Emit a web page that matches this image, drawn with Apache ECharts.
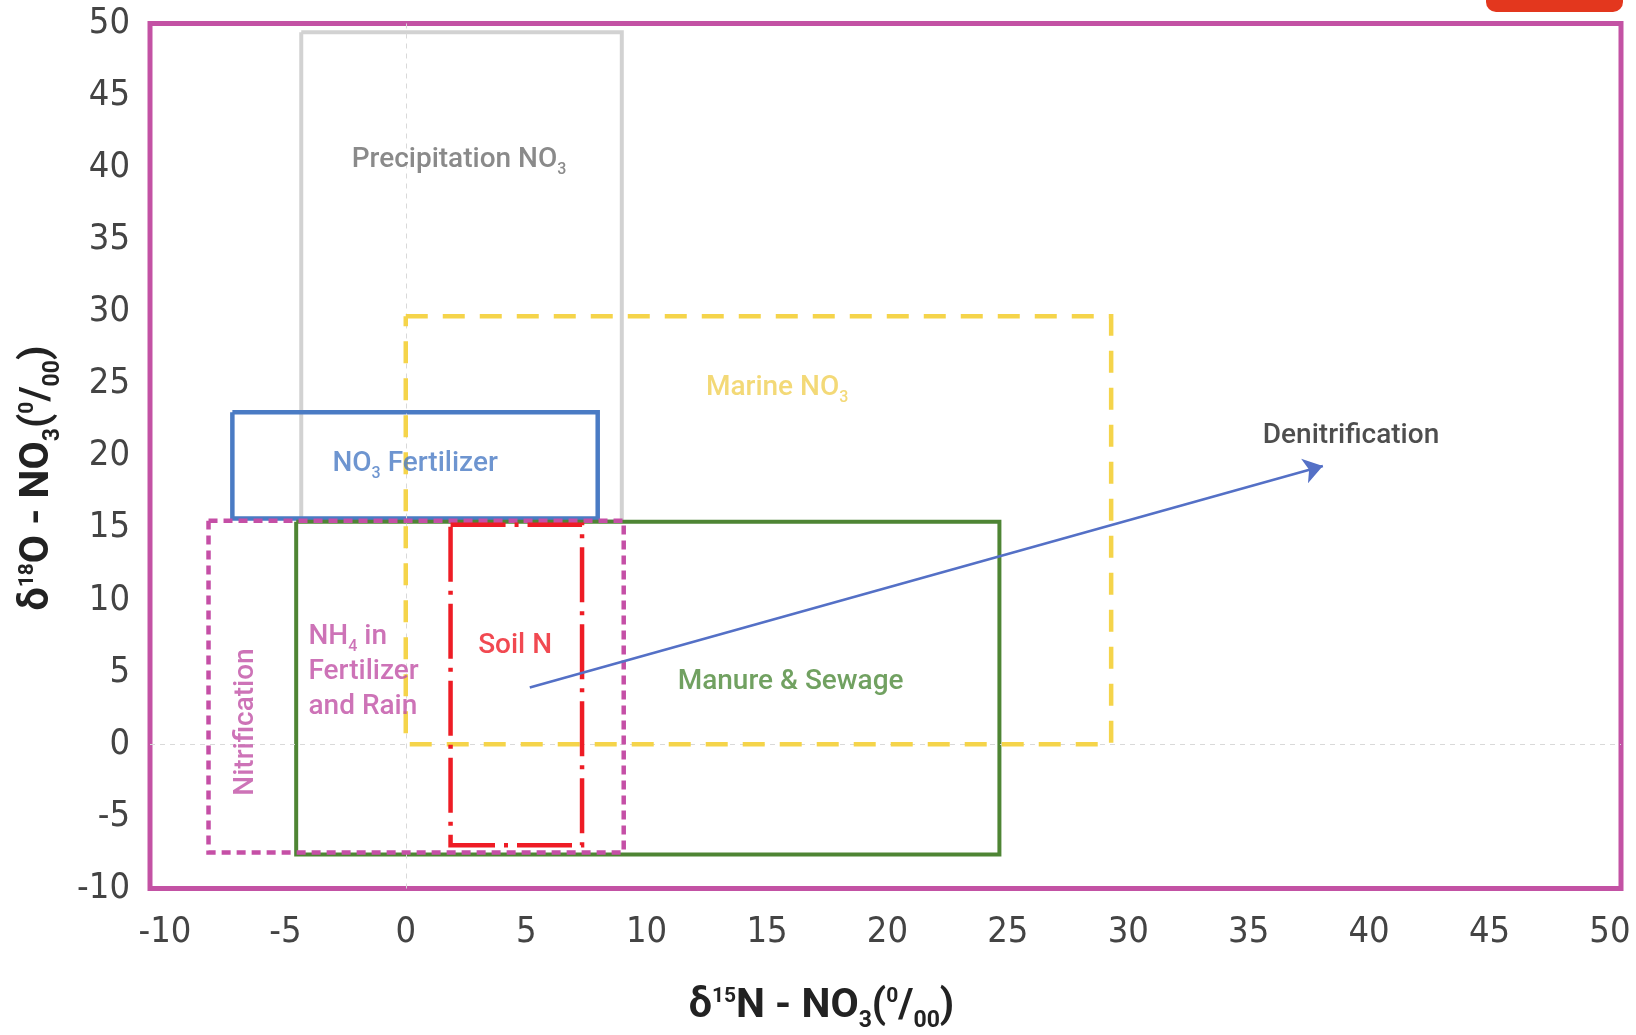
<!DOCTYPE html>
<html>
<head>
<meta charset="utf-8">
<script src="https://cdn.jsdelivr.net/npm/echarts@6/dist/echarts.min.js"></script>
<style>
html,body{margin:0;padding:0;background:#fff;}
#chart{width:1636px;height:1035px;}
</style>
</head>
<body>
<div id="chart"></div>
<script>
// ---- data ----
const xTickValues = [-10, -5, 0, 5, 10, 15, 20, 25, 30, 35, 40, 45, 50];
const yTickValues = [-10, -5, 0, 5, 10, 15, 20, 25, 30, 35, 40, 45, 50];

const boxNames = ['Precipitation NO3', 'NO3 Fertilizer', 'Manure & Sewage', 'Marine NO3', 'Nitrification (NH4 in Fertilizer and Rain)', 'Soil N'];
const boxX0 = [-4.34, -7.20, -4.55, 0.00, -8.19, 1.86];
const boxX1 = [8.97, 7.97, 24.65, 29.29, 9.05, 7.32];
const boxY0 = [15.5, 15.66, -7.64, 0.00, -7.50, -7.00];
const boxY1 = [49.39, 23.04, 15.44, 29.70, 15.51, 15.23];

const arrowStart = [5.15, 3.94];
const arrowEnd = [38.08, 19.31];

const labelTexts = ['Precipitation NO{s|3}', 'Marine NO{s|3}', 'NO{s|3} Fertilizer', 'NH{s|4} in\nFertilizer\nand Rain', 'Soil N', 'Manure & Sewage', 'Nitrification', 'Denitrification'];
const labelX = [2.21, 15.42, 0.39, -4.04, 4.54, 15.98, -6.76, 39.25];
const labelY = [40.77, 24.93, 19.64, 5.24, 7.05, 4.51, 1.55, 21.60];

// ---- styles ----
const boxColors = ['#d2d2d2', '#4a7bc4', '#4e8534', '#f5d44a', '#c54fa6', '#ee1c25'];
const boxDash = ['solid', 'solid', 'solid', [22, 15], [9, 6], [55, 9, 4, 9]];
const boxWidths = [4, 4.5, 4, 4.5, 4.5, 4.5];
const labelColors = ['#6d6d6d', '#f0cf55', '#4a7bc4', '#c150a5', '#ee1c25', '#4e8a3a', '#c150a5', '#222222'];
const labelAlign = ['center', 'center', 'center', 'left', 'center', 'center', 'center', 'center'];
const labelRotate = [0, 0, 0, 0, 0, 0, 90, 0];
const labelOffset = [[0, 3], [0, 3], [0, 3], [0, 3], [0, 3], [0, 3], [0, 3], [0, 3]];

const tickFont = "'Liberation Sans Narrow', 'DejaVu Sans Condensed', 'Roboto', sans-serif";
const textFont = "Roboto, 'Noto Sans', sans-serif";

const series = [];

// zero reference lines
series.push({
  type: 'line', data: [], silent: true, z: 1,
  markLine: {
    silent: true, symbol: 'none', label: {show: false},
    lineStyle: {color: '#d9d9d9', width: 1, type: [5, 5]},
    data: [{xAxis: 0}, {yAxis: 0}]
  }
});

boxNames.forEach((name, i) => {
  const x0 = boxX0[i], x1 = boxX1[i], y0 = boxY0[i], y1 = boxY1[i];
  series.push({
    name: name, type: 'line', z: 2 + i,
    showSymbol: false, symbol: 'none', silent: true, animation: false,
    data: [[x0, y1], [x1, y1], [x1, y0], [x0, y0], [x0, y1]],
    lineStyle: {color: boxColors[i], width: boxWidths[i], type: boxDash[i], cap: 'butt', join: 'miter'}
  });
});

series.push({
  name: 'Denitrification', type: 'lines', coordinateSystem: 'cartesian2d', z: 20,
  symbol: ['none', 'arrow'], symbolSize: 19, silent: true, animation: false,
  lineStyle: {color: '#5470c6', width: 2.5, opacity: 1, curveness: 0},
  data: [{coords: [arrowStart, arrowEnd]}]
});

series.push({
  type: 'scatter', symbolSize: 0, z: 30, silent: true, animation: false,
  label: {
    show: true, position: 'inside', fontFamily: textFont, fontSize: 28, lineHeight: 35, fontWeight: 500,
    rich: {s: {fontSize: 16, lineHeight: 14, padding: [20, 0, 0, 0]}}
  },
  data: labelTexts.map((t, i) => ({
    value: [labelX[i], labelY[i]],
    label: {
      formatter: t, color: labelColors[i], align: labelAlign[i],
      rotate: labelRotate[i], offset: labelOffset[i]
    }
  }))
});

const axisNameRich = {
  p: {fontSize: 21, lineHeight: 21, padding: [0, 0, 20, 0], fontWeight: 'bold'},
  b: {fontSize: 23, lineHeight: 23, padding: [30, 0, 0, 0], fontWeight: 'bold'}
};

const chart = echarts.init(document.getElementById('chart'), null, {renderer: 'canvas'});
chart.setOption({
  backgroundColor: '#ffffff',
  animation: false,
  grid: {left: 150, top: 23.5, width: 1471, height: 865, show: true, borderColor: '#c352a4', borderWidth: 5, backgroundColor: 'transparent', containLabel: false, outerBoundsMode: 'none'},
  xAxis: {
    type: 'value', min: -10.62, max: 50.46,
    axisLine: {show: false}, axisTick: {show: false}, splitLine: {show: false},
    axisLabel: {customValues: xTickValues, fontSize: 36, fontFamily: tickFont, color: '#444', margin: 26},
    name: 'δ{p|15}N - NO{b|3}({p|0}/{b|00})', nameLocation: 'middle', nameGap: 91,
    nameTextStyle: {fontSize: 41, fontWeight: 'bold', fontFamily: textFont, color: '#222', lineHeight: 54, padding: [0, 128, 0, 0], rich: axisNameRich}
  },
  yAxis: {
    type: 'value', min: -10, max: 50,
    axisLine: {show: false}, axisTick: {show: false}, splitLine: {show: false},
    axisLabel: {customValues: yTickValues, fontSize: 36, fontFamily: tickFont, color: '#444', margin: 20},
    name: 'δ{p|18}O - NO{b|3}({p|0}/{b|00})', nameLocation: 'middle', nameRotate: 90, nameGap: 85,
    nameTextStyle: {fontSize: 41, fontWeight: 'bold', fontFamily: textFont, color: '#222', lineHeight: 54, padding: [0, 44, 0, 0], rich: axisNameRich}
  },
  graphic: [{
    type: 'rect', shape: {x: 1486, y: -20, width: 137, height: 32, r: 10},
    style: {fill: '#e3371e'}, z: 100
  }],
  series: series
});
</script>
</body>
</html>
